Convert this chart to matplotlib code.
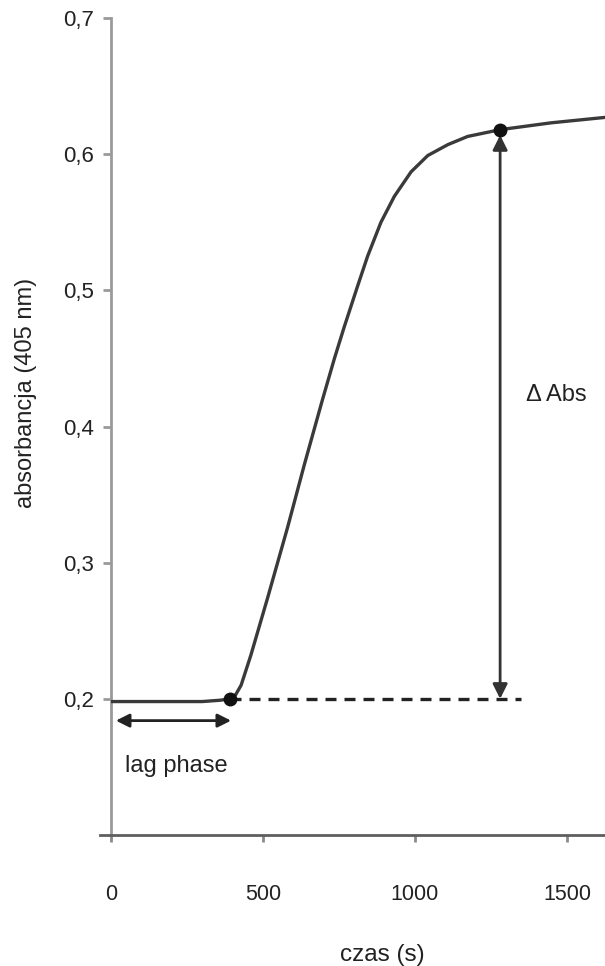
import matplotlib

matplotlib.use("Agg")
import matplotlib.pyplot as plt

# absorbance curve
time_s = [0, 150, 300, 360, 390, 410, 428, 460, 515, 581, 636, 696, 735, 767,
          811, 844, 888, 932, 987, 1042, 1108, 1173, 1280, 1447, 1625]
absorbance = [0.198, 0.198, 0.198, 0.199, 0.200, 0.203, 0.210, 0.232, 0.274,
              0.326, 0.372, 0.420, 0.450, 0.473, 0.503, 0.525, 0.550, 0.569,
              0.587, 0.599, 0.607, 0.613, 0.618, 0.623, 0.627]

lag_end = (390, 0.200)
plateau = (1280, 0.618)
baseline_end = 1349
lag_arrow = (16, 395, 0.184)

x_ticks = [0, 500, 1000, 1500]
x_tick_labels = ["0", "500", "1000", "1500"]
y_ticks = [0.2, 0.3, 0.4, 0.5, 0.6, 0.7]
y_tick_labels = ["0,2", "0,3", "0,4", "0,5", "0,6", "0,7"]

plt.rcParams["font.family"] = ["Liberation Sans", "DejaVu Sans"]
text_c = "#222222"

fig = plt.figure(figsize=(6.05, 9.66), dpi=100)
ax = fig.add_axes([111 / 605, 131 / 966, 494 / 605, 817 / 966])
ax.set_xlim(0, 1625)
ax.set_ylim(0.1, 0.7)

ax.plot(time_s, absorbance, color="#3a3a3a", lw=2.4, solid_capstyle="round",
        solid_joinstyle="round", zorder=3)
ax.plot(*zip(lag_end, plateau), ls="none", marker="o", ms=9, color="#111111", zorder=4)

# baseline from end of lag phase
ax.plot([lag_end[0], baseline_end], [lag_end[1], lag_end[1]], color="#222222",
        lw=2.4, ls=(0, (3.3, 2.4)), zorder=2)

# delta Abs double arrow
ax.annotate("", xy=(plateau[0], plateau[1] - 0.004), xytext=(plateau[0], lag_end[1]),
            arrowprops=dict(arrowstyle="<|-|>", color="#333333", lw=2,
                            mutation_scale=22, shrinkA=0, shrinkB=0))
ax.text(1365, 0.423, "\u0394 Abs", fontsize=17, color=text_c, ha="left", va="center")

# lag phase double arrow
ax.annotate("", xy=(lag_arrow[1], lag_arrow[2]), xytext=(lag_arrow[0], lag_arrow[2]),
            arrowprops=dict(arrowstyle="<|-|>", color="#222222", lw=2,
                            mutation_scale=20, shrinkA=0, shrinkB=0))
ax.text(46, 0.151, "lag phase", fontsize=17, color=text_c, ha="left", va="center")

for side in ("top", "right"):
    ax.spines[side].set_visible(False)
ax.spines["left"].set_color("#9a9a9a")
ax.spines["left"].set_linewidth(2)
ax.spines["bottom"].set_color("#5e5e5e")
ax.spines["bottom"].set_linewidth(2)
ax.spines["bottom"].set_bounds(-36, 1625)

ax.set_xticks(x_ticks, x_tick_labels)
ax.set_yticks(y_ticks, y_tick_labels)
ax.tick_params(axis="x", direction="out", length=5, width=2, color="#8a8a8a",
               pad=30, labelsize=15.5, labelcolor=text_c)
ax.tick_params(axis="y", direction="out", length=6, width=2, color="#9a9a9a",
               pad=6, labelsize=16, labelcolor=text_c)

ax.set_xlabel("czas (s)", fontsize=17.5, color=text_c)
ax.xaxis.set_label_coords(0.549, -0.134)
ax.set_ylabel("absorbancja (405 nm)", fontsize=17, color=text_c)
ax.yaxis.set_label_coords(-0.15, 0.541)

fig.savefig("out.png", dpi=100, facecolor="white")
